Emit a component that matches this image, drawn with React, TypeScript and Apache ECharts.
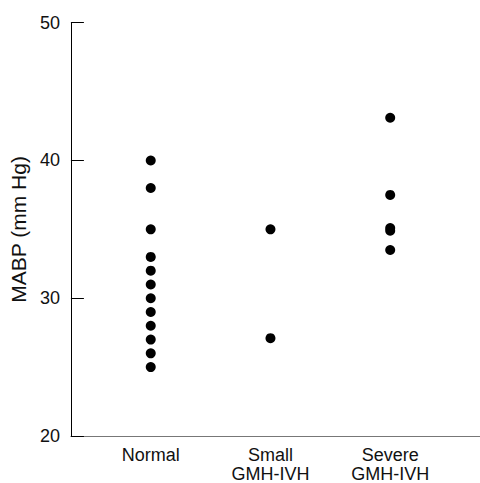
import React, { useEffect, useRef } from "react";
import * as echarts from "echarts";

const categories = ["Normal", "Small\nGMH-IVH", "Severe\nGMH-IVH"];
const normalValues = [40, 38, 35, 33, 32, 31, 30, 29, 28, 27, 26, 25];
const smallValues = [35, 27.1];
const severeValues = [43.1, 37.5, 35.1, 34.9, 33.5];
const yTicks = [20, 30, 40, 50];

const FONT = "'Liberation Sans', Arial, Helvetica, sans-serif";

export default function App() {
  const ref = useRef<HTMLDivElement>(null);
  useEffect(() => {
    document.body.style.margin = "0";
    const chart = echarts.init(ref.current!, null, { renderer: "svg" });
    const groups = [normalValues, smallValues, severeValues];
    const data: number[][] = [];
    groups.forEach((vals, i) => vals.forEach((v) => data.push([i + 1, v])));
    chart.setOption({
      animation: false,
      backgroundColor: "#ffffff",
      grid: { left: 70, right: 0, top: 22.7, bottom: 45.3, containLabel: false },
      xAxis: {
        type: "value",
        min: 1 / 3,
        max: 3.75,
        splitLine: { show: false },
        axisLine: { show: true, lineStyle: { color: "#777777", width: 1 } },
        axisTick: { show: false },
        axisLabel: {
          customValues: [1, 2, 3],
          formatter: (v: number) => categories[Math.round(v) - 1] ?? "",
          color: "#111111",
          fontFamily: FONT,
          fontSize: 18,
          lineHeight: 19,
          margin: 9,
        },
      },
      yAxis: {
        type: "value",
        min: yTicks[0],
        max: yTicks[yTicks.length - 1],
        interval: 10,
        name: "MABP (mm Hg)",
        nameLocation: "middle",
        nameGap: 35,
        nameTextStyle: { color: "#111111", fontFamily: FONT, fontSize: 21 },
        splitLine: { show: false },
        axisLine: { show: true, lineStyle: { color: "#000000", width: 1 } },
        axisTick: { show: true, inside: true, length: 13, lineStyle: { color: "#000000", width: 1 } },
        axisLabel: { color: "#111111", fontFamily: FONT, fontSize: 18, margin: 11 },
      },
      series: [
        {
          type: "scatter",
          data,
          symbol: "circle",
          symbolSize: 10,
          itemStyle: { color: "#000000", opacity: 1 },
        },
      ],
    });
    return () => chart.dispose();
  }, []);
  return <div ref={ref} style={{ width: 480, height: 483 }} />;
}
